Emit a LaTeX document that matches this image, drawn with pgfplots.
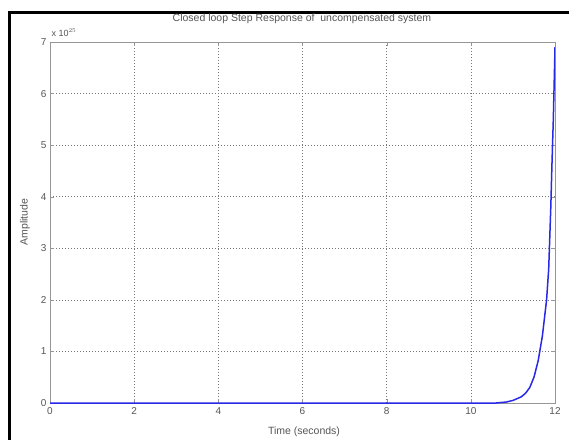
\documentclass[border=0pt]{standalone}
\usepackage{pgfplots}
\pgfplotsset{compat=1.18}
\usepackage{fontspec}
\setmainfont{Liberation Sans}
\definecolor{axgray}{RGB}{150,150,150}
\definecolor{txtgray}{RGB}{85,85,85}
\definecolor{gridgray}{RGB}{120,120,120}
\definecolor{mblue}{RGB}{40,40,230}
\begin{document}
\begin{tikzpicture}[x=1pt,y=1pt]
\useasboundingbox (0,0) rectangle (569,440);
\fill[white] (0,0) rectangle (569,440);
\draw[line width=3pt,black] (9.5,0) -- (9.5,427) -- (569,427);
\begin{axis}[
  at={(50pt,37pt)}, anchor=south west,
  scale only axis, width=505pt, height=361pt,
  xmin=0, xmax=12, ymin=0, ymax=7,
  xtick={0,2,...,12}, ytick={0,1,...,7},
  grid=major,
  major grid style={gridgray, dash pattern=on 1pt off 2pt, line width=0.5pt},
  axis line style={axgray, line width=1pt},
  tick style={axgray},
  tick align=inside,
  major tick length=4pt,
  ticklabel style={font=\fontsize{10}{11}\selectfont, text=txtgray},
  /pgf/number format/assume math mode=true,
  xticklabel style={yshift=-1pt},
  clip=true,
]
\addplot[mblue, line width=1.5pt] coordinates {
(0,0) (10.6,0.0) (10.85,0.02) (11.0,0.05) (11.2,0.12) (11.3,0.19) (11.4,0.3)
(11.5,0.5) (11.6,0.82) (11.7,1.3) (11.8,2.0) (11.85,2.6) (11.9,3.8)
(11.93,4.7) (11.96,5.5) (11.98,6.2) (12,6.9)
};
\end{axis}
\node[font=\fontsize{10.5}{11}\selectfont, text=txtgray] at (302,421) {Closed loop Step Response of~~uncompensated system};
\node[font=\fontsize{10.5}{11}\selectfont, text=txtgray] at (304,8) {Time (seconds)};
\node[font=\fontsize{10.5}{11}\selectfont, text=txtgray, rotate=90] at (25,218) {Amplitude};
\node[font=\fontsize{9}{10}\selectfont, text=txtgray, anchor=south west] at (48,400) {x 10$^{25}$};
\end{tikzpicture}
\end{document}
